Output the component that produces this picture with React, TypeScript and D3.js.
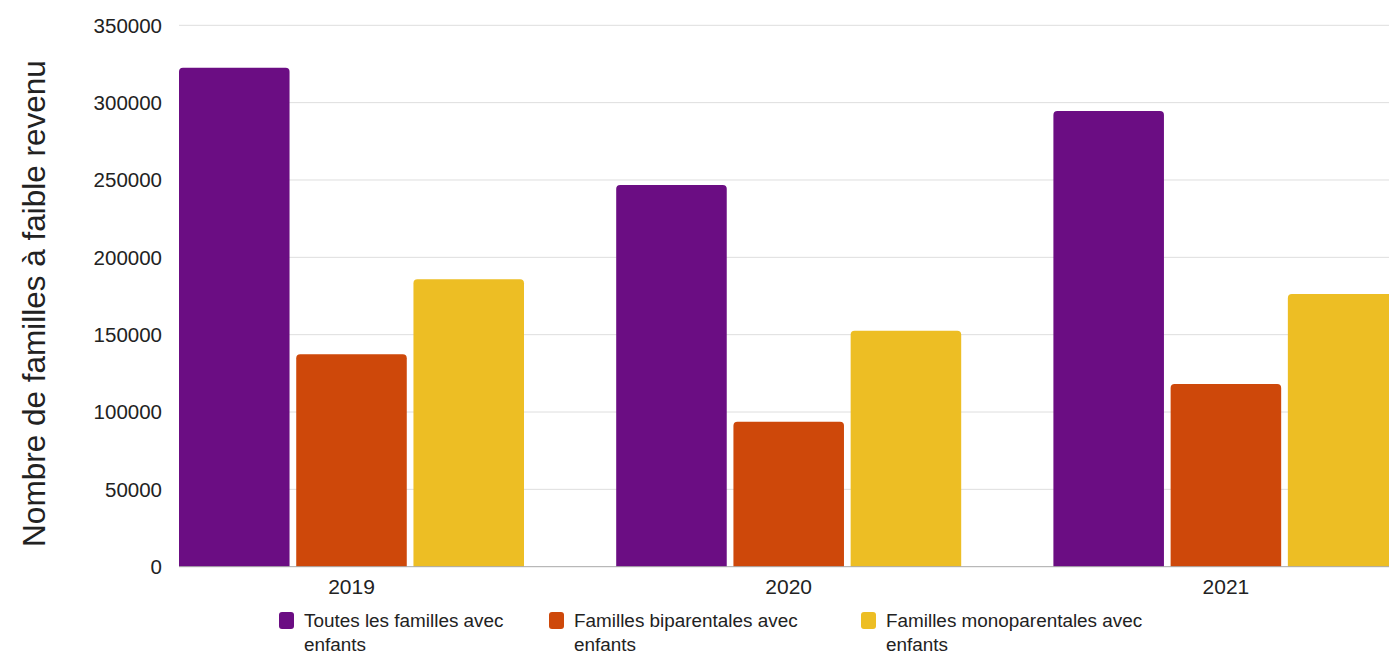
import React from 'react';
import * as d3 from 'd3';

// Low-income families with children, by family type
const years = ['2019', '2020', '2021'];
const seriesKeys = ['toutes', 'biparentales', 'monoparentales'];
const legendLabels = [
  ['Toutes les familles avec', 'enfants'],
  ['Familles biparentales avec', 'enfants'],
  ['Familles monoparentales avec', 'enfants'],
];
const toutesLesFamilles = [322500, 246800, 294600];
const famillesBiparentales = [137300, 93700, 118100];
const famillesMonoparentales = [185800, 152600, 176300];
const seriesColors = ['#6B0D83', '#CE480A', '#EDBE24'];
const yTicks = [0, 50000, 100000, 150000, 200000, 250000, 300000, 350000];
const yTitle = 'Nombre de familles à faible revenu';

const W = 1389;
const H = 654;
const FONT = '"Liberation Sans", Arial, Helvetica, sans-serif';

const seriesValues = [toutesLesFamilles, famillesBiparentales, famillesMonoparentales];

// bar with rounded top corners
function topRoundedRect(x: number, y: number, w: number, h: number, r: number) {
  const rr = Math.min(r, w / 2, h);
  return `M${x},${y + h}V${y + rr}Q${x},${y} ${x + rr},${y}H${x + w - rr}Q${x + w},${y} ${x + w},${y + rr}V${y + h}Z`;
}

export default function App() {
  const plotLeft = 179;
  const y = d3.scaleLinear().domain([0, 350000]).range([566.7, 25.3]);
  const x0 = d3
    .scaleBand<string>()
    .domain(years)
    .range([plotLeft, plotLeft + 3 * 437.2 - 92.2])
    .paddingInner(92.2 / 437.2)
    .paddingOuter(0);
  const x1 = d3
    .scaleBand<string>()
    .domain(seriesKeys)
    .range([0, x0.bandwidth()])
    .paddingInner(0.057)
    .paddingOuter(0);

  const legendX = [279, 549, 861];

  return (
    <svg
      width={W}
      height={H}
      style={{ position: 'absolute', left: 0, top: 0, background: '#fff' }}
      fontFamily={FONT}
    >
      <rect x={0} y={0} width={W} height={H} fill="#fff" />
      {/* grid */}
      {yTicks.map((t) =>
        t === 0 ? null : (
          <line
            key={`g${t}`}
            x1={plotLeft}
            x2={W}
            y1={y(t)}
            y2={y(t)}
            stroke="#dedede"
            strokeWidth={1}
          />
        )
      )}
      {/* y tick labels */}
      {yTicks.map((t) => (
        <text
          key={`t${t}`}
          x={162}
          y={y(t)}
          dy="0.36em"
          textAnchor="end"
          fontSize={20.5}
          fill="#222"
        >
          {String(t)}
        </text>
      ))}
      {/* bars */}
      {years.map((yr, i) => (
        <g key={yr} transform={`translate(${x0(yr)},0)`}>
          {seriesKeys.map((k, s) => {
            const v = seriesValues[s][i];
            const bx = x1(k) as number;
            const by = y(v);
            return (
              <path
                key={k}
                d={topRoundedRect(bx, by, x1.bandwidth(), y(0) - by, 4)}
                fill={seriesColors[s]}
              />
            );
          })}
        </g>
      ))}
      {/* baseline */}
      <line x1={plotLeft} x2={W} y1={y(0)} y2={y(0)} stroke="#a8a8a8" strokeWidth={1} />
      {/* x labels */}
      {years.map((yr) => (
        <text
          key={`x${yr}`}
          x={(x0(yr) as number) + x0.bandwidth() / 2}
          y={594}
          textAnchor="middle"
          fontSize={21}
          fill="#222"
        >
          {yr}
        </text>
      ))}
      {/* y title */}
      <text
        transform={`translate(45,303.5) rotate(-90)`}
        textAnchor="middle"
        fontSize={31.5}
        fill="#222"
      >
        {yTitle}
      </text>
      {/* legend */}
      {legendLabels.map((lines, i) => (
        <g key={`l${i}`} transform={`translate(${legendX[i]},0)`}>
          <rect x={0} y={612} width={15} height={17} rx={3} fill={seriesColors[i]} />
          {lines.map((ln, j) => (
            <text key={j} x={25} y={627 + j * 24} fontSize={18.9} fill="#222">
              {ln}
            </text>
          ))}
        </g>
      ))}
    </svg>
  );
}
